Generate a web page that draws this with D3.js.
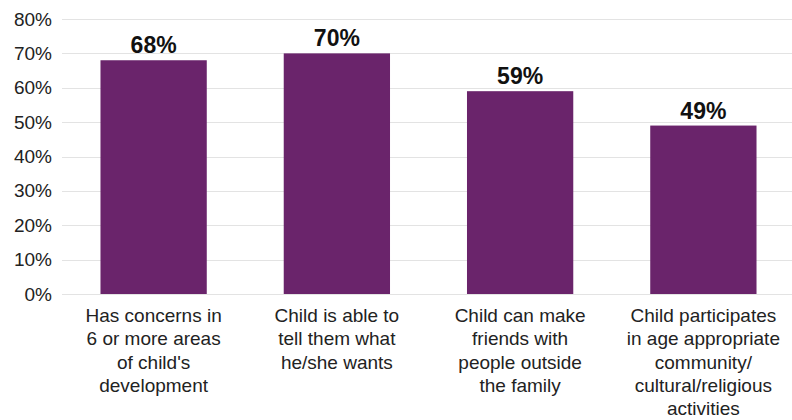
<!DOCTYPE html>
<html>
<head>
<meta charset="utf-8">
<script src="https://cdn.jsdelivr.net/npm/d3@7"></script>
<style>
  html, body { margin: 0; padding: 0; background: #fff; }
  svg { display: block; }
</style>
</head>
<body>
<svg id="chart" width="792" height="420"></svg>
<script>
const categories = [
  ["Has concerns in", "6 or more areas", "of child's", "development"],
  ["Child is able to", "tell them what", "he/she wants"],
  ["Child can make", "friends with", "people outside", "the family"],
  ["Child participates", "in age appropriate", "community/", "cultural/religious", "activities"]
];
const values = [68, 70, 59, 49];
const yTicks = [0, 10, 20, 30, 40, 50, 60, 70, 80];

const svg = d3.select("#chart");
const margin = { left: 62, right: -3, top: 19, bottom: 126 };
const W = 792, H = 420;

const x = d3.scaleBand()
  .domain(d3.range(values.length))
  .range([margin.left, W - margin.right])
  .paddingInner(0.42)
  .paddingOuter(0.21);

const y = d3.scaleLinear()
  .domain([0, 80])
  .range([H - margin.bottom, margin.top]);

// gridlines
svg.append("g")
  .selectAll("line")
  .data(yTicks)
  .join("line")
  .attr("x1", margin.left)
  .attr("x2", W)
  .attr("y1", d => Math.round(y(d)) + 0.5)
  .attr("y2", d => Math.round(y(d)) + 0.5)
  .attr("stroke", "#e3e3e3")
  .attr("stroke-width", 1.2);

// y axis labels
const yAxis = d3.axisLeft(y).tickValues(yTicks).tickFormat(d => d + "%").tickSize(0).tickPadding(10);
const yg = svg.append("g").attr("transform", `translate(${margin.left},0)`).call(yAxis);
yg.select(".domain").remove();
yg.selectAll("text")
  .attr("font-family", "'Liberation Sans', Arial, sans-serif")
  .attr("font-size", 19)
  .attr("fill", "#222");

// bars
svg.append("g")
  .selectAll("rect")
  .data(values)
  .join("rect")
  .attr("x", (d, i) => x(i))
  .attr("width", x.bandwidth())
  .attr("y", d => y(d))
  .attr("height", d => y(0) - y(d))
  .attr("fill", "#6A246B");

// value labels
svg.append("g")
  .selectAll("text")
  .data(values)
  .join("text")
  .attr("x", (d, i) => x(i) + x.bandwidth() / 2)
  .attr("y", d => y(d) - 7)
  .attr("text-anchor", "middle")
  .attr("font-family", "'Liberation Sans', Arial, sans-serif")
  .attr("font-weight", "bold")
  .attr("font-size", 23)
  .attr("fill", "#111")
  .text(d => d + "%");

// category labels
const cg = svg.append("g");
categories.forEach((lines, i) => {
  const t = cg.append("text")
    .attr("x", x(i) + x.bandwidth() / 2)
    .attr("y", y(0) + 28)
    .attr("text-anchor", "middle")
    .attr("font-family", "'Liberation Sans', Arial, sans-serif")
    .attr("font-size", 19)
    .attr("fill", "#222");
  lines.forEach((ln, j) => {
    t.append("tspan")
      .attr("x", x(i) + x.bandwidth() / 2)
      .attr("dy", j === 0 ? 0 : 23.3)
      .text(ln);
  });
});
</script>
</body>
</html>
